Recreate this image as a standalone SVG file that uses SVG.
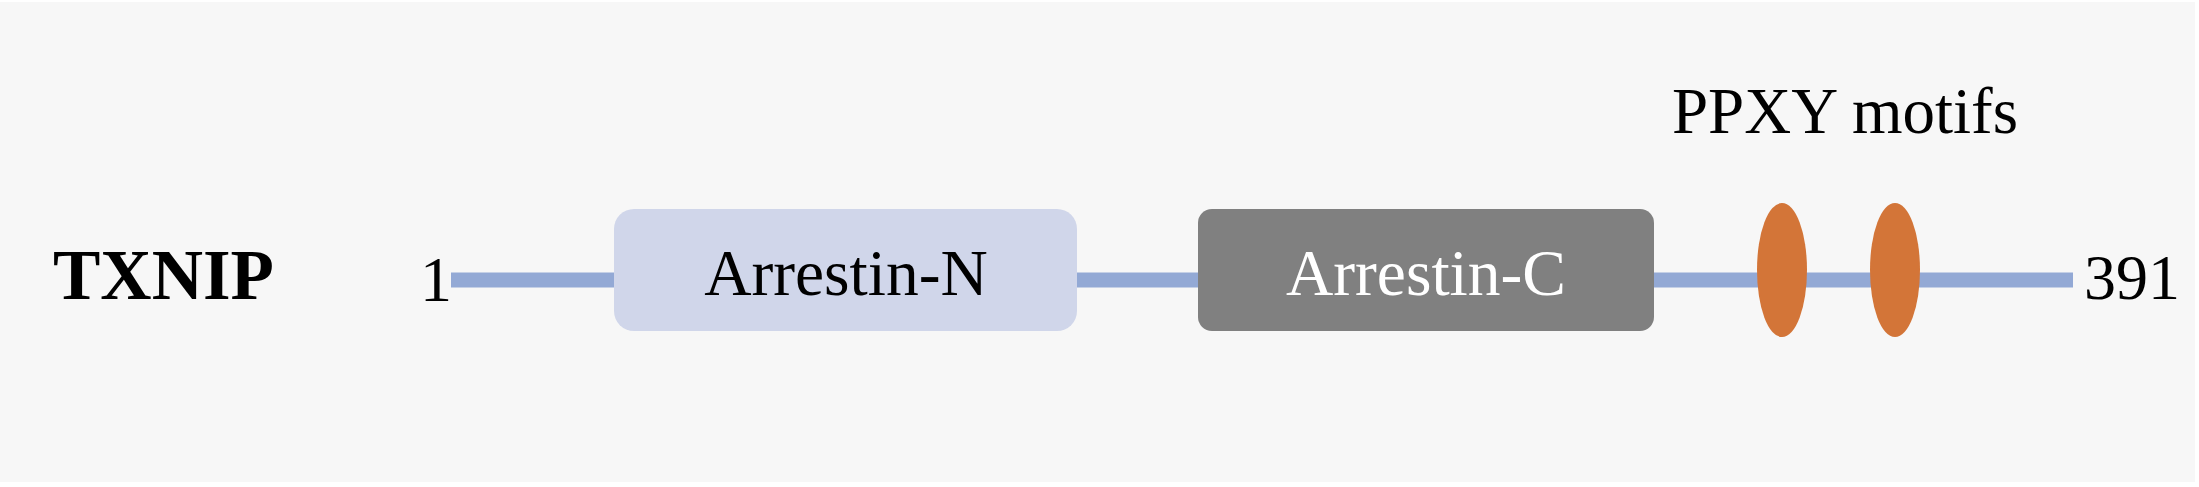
<svg xmlns="http://www.w3.org/2000/svg" width="2199" height="487" viewBox="0 0 2199 487">
<style>
.lbl{font-family:"Liberation Serif","Times New Roman",serif;fill:#000}
.dom{font-family:"Liberation Serif","Times New Roman",serif;font-size:65.5px;text-anchor:middle}
.motif{fill:#d37538}
</style>
<rect x="0" y="0" width="2199" height="487" fill="#ffffff"/>
<rect x="0" y="2" width="2195" height="480" fill="#f7f7f7"/>
<g id="connectors">
<line x1="451" y1="280" x2="2073" y2="280" stroke="#93a9d5" stroke-width="15"/>
</g>
<g id="title"><text class="lbl" x="53" y="299" font-size="71" font-weight="bold">TXNIP</text></g>
<g id="start"><text class="lbl" x="420" y="301" font-size="64">1</text></g>
<g id="end"><text class="lbl" x="2084" y="299" font-size="64">391</text></g>
<g id="arrestin-n">
<rect x="614" y="209" width="463" height="122" rx="20" fill="#d0d6ea"/>
<text class="dom" x="846" y="295" fill="#000">Arrestin-N</text>
</g>
<g id="arrestin-c">
<rect x="1198" y="209" width="456" height="122" rx="14" fill="#808080"/>
<text class="dom" x="1426" y="295" fill="#ffffff">Arrestin-C</text>
</g>
<g id="ppxy1"><ellipse class="motif" cx="1782" cy="270" rx="25" ry="67"/></g>
<g id="ppxy2"><ellipse class="motif" cx="1895" cy="270" rx="25" ry="67"/></g>
<g id="ppxy-label"><text class="lbl" x="1845" y="133" font-size="65" text-anchor="middle">PPXY motifs</text></g>
</svg>
